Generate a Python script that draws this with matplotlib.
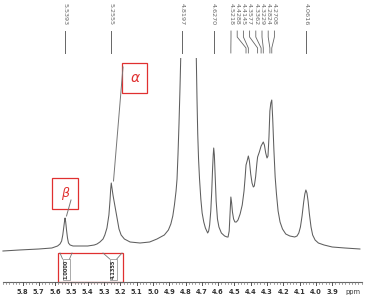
import matplotlib
matplotlib.use("Agg")
import matplotlib.pyplot as plt
from matplotlib.patches import Rectangle

# ---- data ----
ppm = [5.920, 5.820, 5.700, 5.620, 5.585, 5.570, 5.560, 5.553, 5.547, 5.542, 5.539, 5.535,
       5.530, 5.524, 5.518, 5.508, 5.490, 5.450, 5.400, 5.360, 5.343, 5.325, 5.306, 5.295,
       5.282, 5.270, 5.263, 5.259, 5.2555, 5.251, 5.245, 5.232, 5.220, 5.208, 5.195, 5.175,
       5.140, 5.079, 5.020, 4.975, 4.930, 4.905, 4.890, 4.878, 4.868, 4.858, 4.852, 4.846,
       4.840, 4.834, 4.828, 4.820, 4.800, 4.780, 4.760, 4.745, 4.735, 4.7295, 4.725, 4.720,
       4.714, 4.706, 4.698, 4.688, 4.678, 4.670, 4.664, 4.658, 4.652, 4.645, 4.639, 4.634,
       4.630, 4.627, 4.623, 4.618, 4.612, 4.604, 4.595, 4.580, 4.560, 4.545, 4.539, 4.532,
       4.527, 4.5218, 4.517, 4.512, 4.505, 4.497, 4.488, 4.478, 4.465, 4.452, 4.441, 4.434,
       4.4288, 4.422, 4.4145, 4.408, 4.400, 4.392, 4.384, 4.378, 4.370, 4.362, 4.3577, 4.347,
       4.3362, 4.3229, 4.316, 4.308, 4.300, 4.294, 4.288, 4.2824, 4.2766, 4.2708, 4.265,
       4.258, 4.250, 4.242, 4.232, 4.220, 4.205, 4.185, 4.160, 4.130, 4.116, 4.105, 4.095,
       4.085, 4.075, 4.068, 4.0616, 4.055, 4.048, 4.040, 4.030, 4.020, 4.005, 3.985, 3.950,
       3.900, 3.822, 3.730]
intensity = [-2, -1, 0, 1, 3, 5, 8, 14, 22, 28, 31, 27,
             19, 11, 6, 4, 3, 3, 3, 4, 5, 7, 10, 14,
             21, 34, 49, 60, 66, 61, 54, 42, 31, 20, 14, 10,
             7, 6, 7, 10, 14, 19, 25, 33, 44, 58, 70, 95,
             125, 160, 200, 320, 420, 450, 400, 300, 200, 150, 115, 90,
             70, 50, 36, 27, 21, 18, 16, 18, 24, 38, 58, 80,
             94, 101, 94, 72, 48, 30, 22, 16, 13, 12, 12, 18,
             35, 52, 46, 37, 30, 27, 27, 29, 35, 44, 58, 72,
             84, 88, 93, 88, 75, 66, 62, 63, 72, 86, 92, 97,
             103, 107, 104, 96, 91, 93, 112, 138, 146, 149, 130,
             100, 72, 55, 38, 27, 20, 15, 13, 12, 13, 16, 22,
             33, 47, 55, 59, 56, 48, 35, 22, 14, 9, 6, 4,
             2, 1, 0]

peak_labels = ["5.5393", "5.2555", "4.8197", "4.6270", "4.5218", "4.4288", "4.4145",
               "4.3577", "4.3362", "4.3229", "4.2824", "4.2708", "4.0616"]
peak_ppm = [float(s) for s in peak_labels]

tick_values = [5.8, 5.7, 5.6, 5.5, 5.4, 5.3, 5.2, 5.1, 5.0, 4.9, 4.8, 4.7, 4.6, 4.5,
               4.4, 4.3, 4.2, 4.1, 4.0, 3.9]
integral_labels = ["1.0000", "4.1355"]
integral_ppm = [5.539, 5.2555]

# ---- figure ----
W, H = 367, 299
X0, SCALE = 5.9381, 163.0          # ppm at left edge, px per ppm
BASE = 249                          # baseline pixel row
fig = plt.figure(figsize=(W / 100, H / 100), dpi=100)
ax = fig.add_axes([0, 0, 1, 1])
ax.set_xlim(X0, X0 - W / SCALE)
ax.set_ylim(BASE - H, BASE)
ax.axis("off")

# overlay in pixel coordinates for decorations
px = fig.add_axes([0, 0, 1, 1])
px.set_xlim(0, W)
px.set_ylim(H, 0)
px.axis("off")
px.patch.set_alpha(0)

def p2x(v):
    return (X0 - v) * SCALE

grey = "#5e5e5e"
line, = ax.plot(ppm, intensity, color=grey, lw=0.75)
clip = Rectangle((X0, -60), -(W / SCALE), BASE - 58 + 60, transform=ax.transData)
line.set_clip_path(clip)

# axis
axis_y = 282
px.plot([3, 362], [axis_y, axis_y], color="#666666", lw=0.8)
for i in range(int(round((5.92 - 3.72) / 0.02)) + 1):
    v = 5.92 - i * 0.02
    xx = p2x(v)
    px.plot([xx, xx], [axis_y, axis_y + 1.5], color="#777777", lw=0.5)
for v in tick_values:
    xx = p2x(v)
    px.plot([xx, xx], [axis_y, axis_y + 3], color="#555555", lw=0.7)
    px.text(xx, 292, f"{v:.1f}", ha="center", va="center", fontsize=4.8,
            fontweight="bold", color="#333333")
px.text(353, 292, "ppm", ha="center", va="center", fontsize=4.8, color="#333333")

# peak labels
cluster_x0, cluster_dx = 231, 6.2
ci = 0
for lab, v in zip(peak_labels, peak_ppm):
    xp = p2x(v)
    if 4.25 < v < 4.55:
        xl = cluster_x0 + ci * cluster_dx
        ci += 1
        px.plot([xl, xl, xp, xp], [31, 37, 48, 53], color="#666666", lw=0.6)
    else:
        xl = xp
        px.plot([xl, xl], [31, 53], color="#666666", lw=0.7)
    px.text(xl, 3, lab, rotation=-90, ha="center", va="top", fontsize=4.6,
            color="#666666")

# alpha / beta annotations
px.add_patch(Rectangle((52, 178), 26, 31, fill=False, ec="#e03030", lw=0.9))
px.text(65, 194, "β", color="#e03030", fontsize=9, style="italic",
        ha="center", va="center")
px.plot([71, 66.5], [200, 216], color="#777777", lw=0.7)
px.add_patch(Rectangle((122, 63), 25, 30, fill=False, ec="#e03030", lw=0.9))
px.text(135, 78, "α", color="#e03030", fontsize=10, style="italic",
        ha="center", va="center")
px.plot([123, 113.5], [67, 181], color="#777777", lw=0.7)

# integration area
px.add_patch(Rectangle((58, 253), 65, 29, fill=False, ec="#e03030", lw=0.9))
for lab, v, (l, r) in zip(integral_labels, integral_ppm, [(60, 72), (103, 122)]):
    xc = p2x(v) + (1 if v > 5.4 else 2)
    px.plot([l, xc - 3.5], [253, 259], color="#777777", lw=0.6)
    px.plot([r, xc + 3.5], [253, 259], color="#777777", lw=0.6)
    px.add_patch(Rectangle((xc - 3.5, 259), 7, 21, fill=False, ec="#888888", lw=0.5))
    px.text(xc, 269.5, lab, rotation=90, ha="center", va="center", fontsize=3.6,
            fontweight="bold", color="#333333")

fig.savefig("out.png", dpi=100)
